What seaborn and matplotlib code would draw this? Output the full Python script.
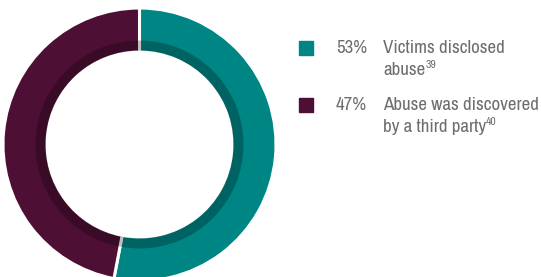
import matplotlib
matplotlib.use("Agg")
import matplotlib.pyplot as plt
import seaborn as sns
from matplotlib import font_manager as fm

sns.set_style("white")

labels = ["Victims disclosed\nabuse", "Abuse was discovered\nby a third party"]
percents = [53, 47]
refs = ["39", "40"]
colors = ["#008585", "#4d0f33"]

names = sorted({(f.name, f.stretch) for f in fm.fontManager.ttflist})
fam = "DejaVu Sans"
stretch = "normal"
for n, s in names:
    if "Condensed" in n or "Narrow" in n:
        fam = n
        break
else:
    for n, s in names:
        if n == "DejaVu Sans" and s == "condensed":
            stretch = "condensed"
plt.rcParams["font.family"] = [fam, "DejaVu Sans"]

W, H = 541, 277
fig = plt.figure(figsize=(W / 100, H / 100), dpi=100)
ax = fig.add_axes([3 / W, -4 / H, 273 / W, 273 / H])
R = 1.0
px = 1 / 136.5
r_band = 104 * px
r_hole = 92.5 * px
ax.pie(percents, colors=colors, startangle=90, counterclock=False, radius=R,
       wedgeprops=dict(width=R - r_hole, edgecolor="white", linewidth=2.2))
ax.pie([1], colors=["black"], radius=r_band,
       wedgeprops=dict(width=r_band - r_hole - 1.3 * px, linewidth=0, alpha=0.25))
ax.set_xlim(-1, 1)
ax.set_ylim(-1, 1)
ax.set_aspect("equal")
ax.axis("off")

txt_color = "#6e6e6e"
fs = 13.6
sq_y = [48, 105]
renderer = fig.canvas.get_renderer()
kw = dict(color=txt_color, va="center", ha="left", fontstretch=stretch, fontweight="semibold")
for i in range(2):
    cy = sq_y[i]
    fig.patches.append(plt.Rectangle((299 / W, 1 - (cy + 7) / H), 14 / W, 14 / H,
                                     transform=fig.transFigure, color=colors[i]))
    fig.text(336 / W, 1 - cy / H, f"{percents[i]}%", fontsize=fs, **kw)
    l1, l2 = labels[i].split("\n")
    fig.text(383 / W, 1 - cy / H, l1, fontsize=fs, **kw)
    t2 = fig.text(383 / W, 1 - (cy + 22) / H, l2, fontsize=fs, **kw)
    bb = t2.get_window_extent(renderer)
    fig.text(bb.x1 / W, 1 - (cy + 22 - 5) / H, refs[i], fontsize=fs * 0.62, **kw)

fig.savefig("out.png", dpi=100)
